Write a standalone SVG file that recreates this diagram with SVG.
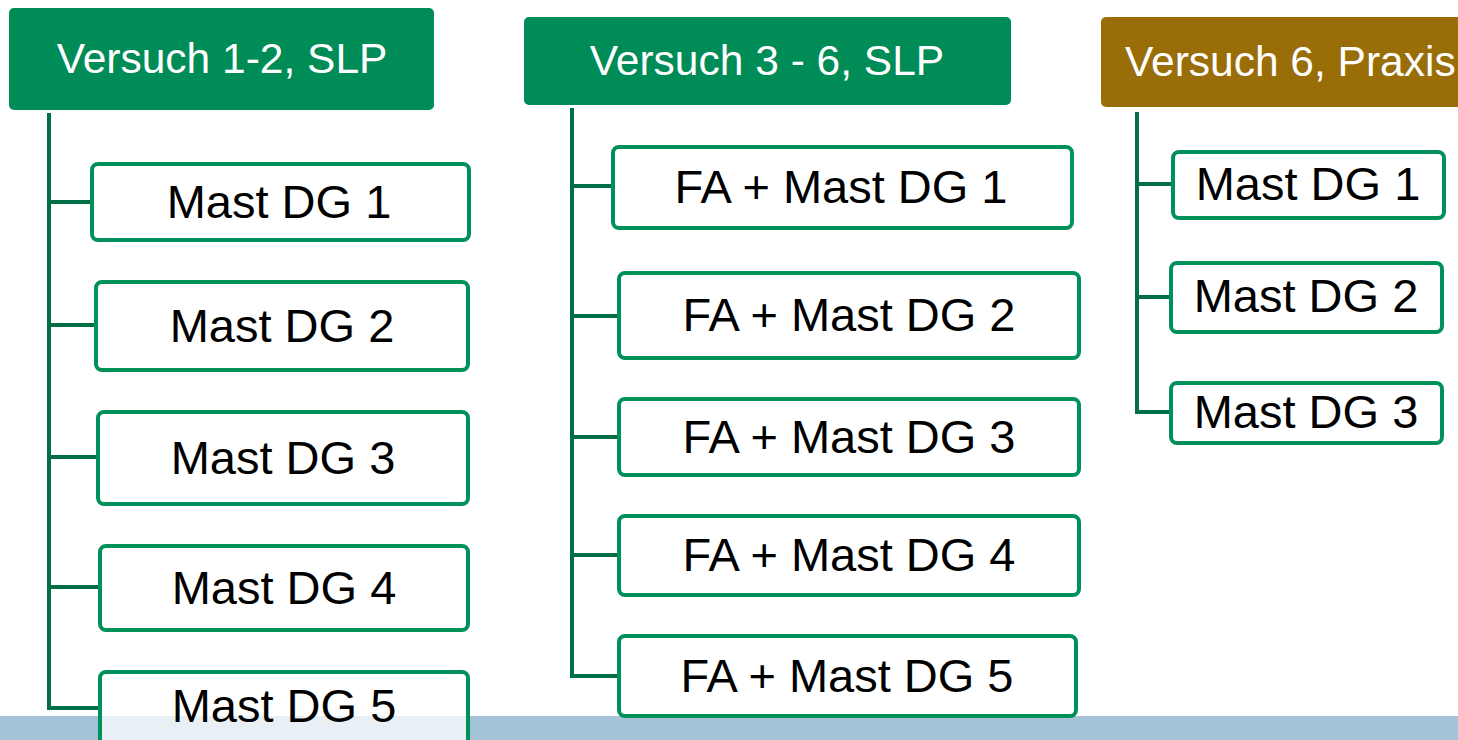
<svg xmlns="http://www.w3.org/2000/svg" width="1458" height="740" viewBox="0 0 1458 740">
<style>
.hdr{fill:#008c57}
.hdr2{fill:#996d08}
.ht{font-family:"Liberation Sans",Arial,sans-serif;font-size:42.5px;fill:#ffffff;text-anchor:middle}
.box{fill:#ffffff;stroke:#00905a;stroke-width:4}
.bt{font-family:"Liberation Sans",Arial,sans-serif;font-size:47px;fill:#000000;text-anchor:middle}
.con{fill:none;stroke:#006f45;stroke-width:4}
</style>
<rect width="1458" height="740" fill="#ffffff"/>
<rect x="0" y="716" width="1458" height="24" fill="#a5c3d8"/>
<g id="connectors">
<path class="con" d="M49 113 V708 H100 M49 202 H92 M49 325 H96 M49 457 H98 M49 587 H100"/>
<path class="con" d="M572 108 V676 H619 M572 186 H613 M572 316 H619 M572 437 H619 M572 555 H619"/>
<path class="con" d="M1137 112 V412 H1171 M1137 184 H1173 M1137 297 H1171"/>
</g>
<g id="h1"><rect class="hdr" x="9" y="8" width="425" height="102" rx="5"/><text class="ht" x="222" y="73">Versuch 1-2, SLP</text></g>
<g id="h2"><rect class="hdr" x="524" y="17" width="487" height="88" rx="5"/><text class="ht" x="767" y="75">Versuch 3 - 6, SLP</text></g>
<g id="h3"><rect class="hdr2" x="1101" y="17" width="370" height="90" rx="5"/><text class="ht" x="1125" y="76" style="text-anchor:start">Versuch 6, Praxis</text></g>
<g id="a1"><rect class="box" x="92" y="164" width="377" height="76" rx="6"/><text class="bt" x="279" y="218">Mast DG 1</text></g>
<g id="a2"><rect class="box" x="96" y="282" width="372" height="88" rx="6"/><text class="bt" x="282" y="342">Mast DG 2</text></g>
<g id="a3"><rect class="box" x="98" y="412" width="370" height="92" rx="6"/><text class="bt" x="283" y="474">Mast DG 3</text></g>
<g id="a4"><rect class="box" x="100" y="546" width="368" height="84" rx="6"/><text class="bt" x="284" y="604">Mast DG 4</text></g>
<g id="a5"><rect class="box" x="100" y="672" width="368" height="76" rx="6" style="fill-opacity:0.75"/><text class="bt" x="284" y="722">Mast DG 5</text></g>
<g id="b1"><rect class="box" x="613" y="147" width="459" height="81" rx="6"/><text class="bt" x="841" y="203">FA + Mast DG 1</text></g>
<g id="b2"><rect class="box" x="619" y="273" width="460" height="85" rx="6"/><text class="bt" x="849" y="331">FA + Mast DG 2</text></g>
<g id="b3"><rect class="box" x="619" y="399" width="460" height="76" rx="6"/><text class="bt" x="849" y="453">FA + Mast DG 3</text></g>
<g id="b4"><rect class="box" x="619" y="516" width="460" height="79" rx="6"/><text class="bt" x="849" y="571">FA + Mast DG 4</text></g>
<g id="b5"><rect class="box" x="619" y="636" width="457" height="80" rx="6"/><text class="bt" x="847" y="692">FA + Mast DG 5</text></g>
<g id="c1"><rect class="box" x="1173" y="152" width="271" height="66" rx="6"/><text class="bt" x="1308" y="200">Mast DG 1</text></g>
<g id="c2"><rect class="box" x="1171" y="263" width="271" height="69" rx="6"/><text class="bt" x="1306" y="312">Mast DG 2</text></g>
<g id="c3"><rect class="box" x="1171" y="383" width="271" height="60" rx="6"/><text class="bt" x="1306" y="428">Mast DG 3</text></g>
</svg>
